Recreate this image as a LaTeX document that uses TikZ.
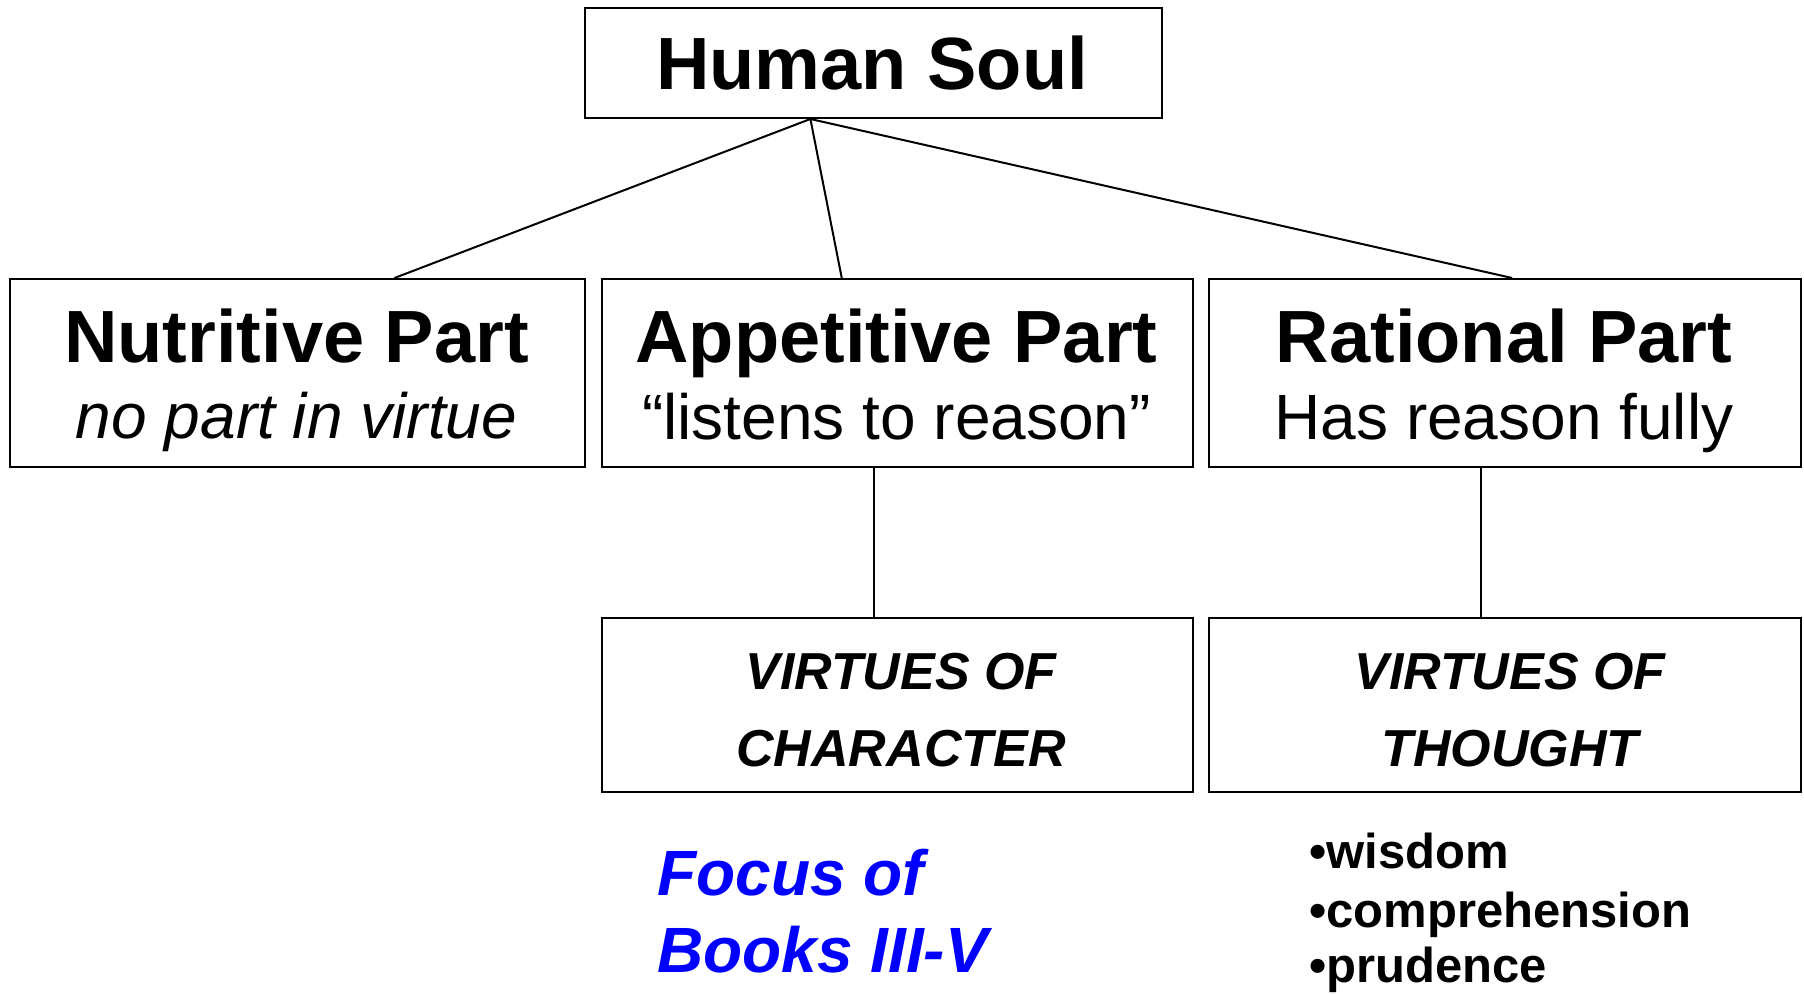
\documentclass[tikz,border=0pt]{standalone}
\usepackage{fontspec}
\setmainfont{Liberation Sans}
\usetikzlibrary{calc}
\definecolor{focusblue}{RGB}{0,0,255}
\begin{document}
\begin{tikzpicture}[x=1pt,y=-1pt,
  box/.style={draw,line width=2pt,inner sep=0pt,anchor=north west},
  conn/.style={line width=2pt},
  txt/.style={anchor=base,inner sep=0pt},
  ttl/.style={txt,font=\fontsize{74}{80}\selectfont\bfseries},
  sub/.style={txt,font=\fontsize{64}{70}\selectfont},
  virt/.style={txt,font=\fontsize{52}{60}\selectfont\bfseries\itshape},
  focus/.style={anchor=base west,inner sep=0pt,text=focusblue,font=\fontsize{64}{70}\selectfont\bfseries\itshape},
  blt/.style={anchor=base west,inner sep=0pt,font=\fontsize{49}{55}\selectfont\bfseries}]
\useasboundingbox[fill=white] (0,0) rectangle (1804,994);
% boxes
\node[box,minimum width=577pt,minimum height=110pt] (hs) at (584,7) {};
\node[box,minimum width=575pt,minimum height=188pt] (nut) at (9,278) {};
\node[box,minimum width=591pt,minimum height=188pt] (app) at (601,278) {};
\node[box,minimum width=592pt,minimum height=188pt] (rat) at (1208,278) {};
\node[box,minimum width=591pt,minimum height=174pt] (vc) at (601,617) {};
\node[box,minimum width=592pt,minimum height=174pt] (vt) at (1208,617) {};
% texts
\node[ttl] (hst) at (872,89) {Human Soul};
\node[ttl] (nutt) at (296.5,362) {Nutritive Part};
\node[sub,font=\fontsize{64}{70}\selectfont\itshape] (nuts) at (296.5,438) {no part in virtue};
\node[ttl] (appt) at (896.5,362) {Appetitive Part};
\node[sub] (apps) at (896.5,439) {“listens to reason”};
\node[ttl] (ratt) at (1504,362) {Rational Part};
\node[sub] (rats) at (1504,439) {Has reason fully};
\node[virt] (vc1) at (901,689) {VIRTUES OF};
\node[virt] (vc2) at (901,766) {CHARACTER};
\node[virt] (vt1) at (1510,689) {VIRTUES OF};
\node[virt] (vt2) at (1510,766) {THOUGHT};
\node[focus] (f1) at (657,895) {Focus of};
\node[focus] (f2) at (657,972) {Books III-V};
\node[blt] (b1) at (1309,868) {•wisdom};
\node[blt] (b2) at (1309,927) {•comprehension};
\node[blt] (b3) at (1309,982) {•prudence};
% connectors
\coordinate (apex) at ($(hs.south west)!0.391!(hs.south east)$);
\draw[conn] (apex) -- ($(nut.north west)!0.668!(nut.north east)$);
\draw[conn] (apex) -- ($(app.north west)!0.406!(app.north east)$);
\draw[conn] (apex) -- ($(rat.north west)!0.512!(rat.north east)$);
\draw[conn] ($(app.south west)!0.46!(app.south east)$) -- ($(vc.north west)!0.46!(vc.north east)$);
\draw[conn] ($(rat.south west)!0.459!(rat.south east)$) -- ($(vt.north west)!0.459!(vt.north east)$);
\end{tikzpicture}
\end{document}
